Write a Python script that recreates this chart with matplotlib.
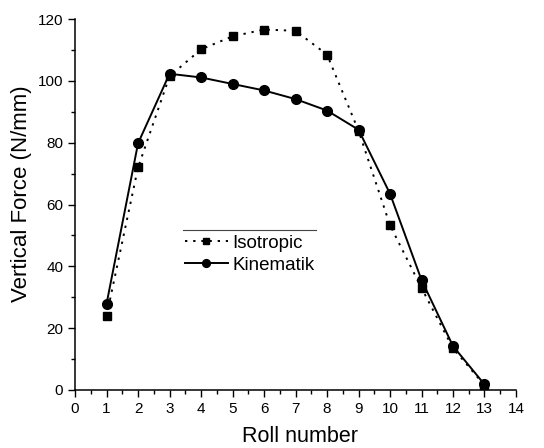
import numpy as np
import matplotlib
matplotlib.use("Agg")
import matplotlib.pyplot as plt
from matplotlib.ticker import MultipleLocator
from matplotlib.lines import Line2D

# ── Data ─────────────────────────────────────────────────────────────────────
roll = [1, 2, 3, 4, 5, 6, 7, 8, 9, 10, 11, 12, 13]
isotropic = [24.0, 72.0, 101.5, 110.2, 114.4, 116.6, 116.2, 108.5, 83.9, 53.3, 33.0, 13.5, 1.5]
kinematik = [27.9, 79.8, 102.3, 101.1, 99.0, 96.9, 94.1, 90.4, 84.2, 63.5, 35.6, 14.2, 1.8]

plt.rcParams["font.family"] = ["Liberation Sans", "DejaVu Sans"]

fig = plt.figure(figsize=(5.44, 4.48), dpi=100)
ax = fig.add_axes([0.138, 0.1295, 0.8105, 0.828])

ax.plot(roll, isotropic, color="black", lw=1.4, ls=(0, (1.2, 3.0)),
        marker="s", ms=6, label="Isotropic")
ax.plot(roll, kinematik, color="black", lw=1.4, ls="-",
        marker="o", ms=7, label="Kinematik")

ax.set_xlim(0, 14)
ax.set_ylim(0, 120)
ax.xaxis.set_major_locator(MultipleLocator(1))
ax.xaxis.set_minor_locator(MultipleLocator(0.5))
ax.yaxis.set_major_locator(MultipleLocator(20))
ax.yaxis.set_minor_locator(MultipleLocator(10))
ax.tick_params(which="major", direction="out", length=5, width=1, labelsize=11)
ax.tick_params(which="minor", direction="out", length=3, width=1)
for s in ["top", "right"]:
    ax.spines[s].set_visible(False)
for s in ["left", "bottom"]:
    ax.spines[s].set_linewidth(1.1)

ax.set_xlabel("Roll number", fontsize=15.5, labelpad=7, x=0.51)
ax.set_ylabel("Vertical Force (N/mm)", fontsize=16, labelpad=4, y=0.53)

leg = ax.legend(loc="upper left", bbox_to_anchor=(0.249, 0.419), borderaxespad=0,
                borderpad=0, frameon=False, fontsize=13.5, handlelength=2.3,
                handletextpad=0.25, labelspacing=0.28, markerscale=0.8)
# thin rule above the legend box
ax.add_line(Line2D([0.245, 0.546], [0.431, 0.431], transform=ax.transAxes,
                   color="#444444", lw=0.8))

fig.savefig("out.png", dpi=100)
